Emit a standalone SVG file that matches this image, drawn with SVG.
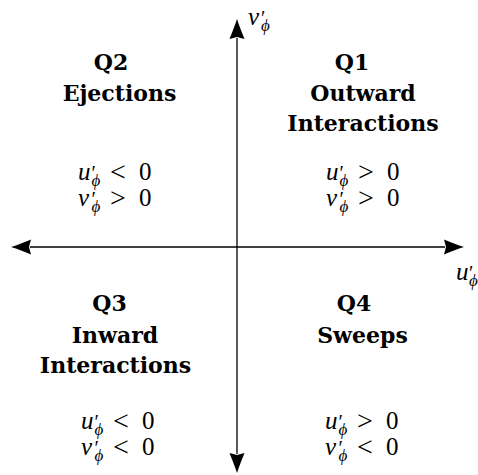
<svg xmlns="http://www.w3.org/2000/svg" width="478" height="475" viewBox="0 0 478 475">
<defs>
<style>
.b{font-family:"DejaVu Serif","Liberation Serif",serif;font-weight:bold;font-size:22px;text-anchor:middle;fill:#000}
.m{font-family:"Liberation Serif","Times New Roman",serif;font-size:25px;fill:#000}
.mi{font-style:italic}
.pr{font-size:20px}
.sb{font-style:italic;font-size:17px}
.rl{font-size:28px}
.ax{stroke:#000;stroke-width:1.3;fill:none}
</style>
<marker id="ah" markerUnits="userSpaceOnUse" markerWidth="22" markerHeight="16" viewBox="0 0 22 16" refX="1" refY="8" orient="auto-start-reverse" overflow="visible">
<path d="M20,8 C14,6.2 6,2.8 0,0.5 L2,8 L0,15.5 C6,13.2 14,9.8 20,8 Z" fill="#000"/>
</marker>
</defs>
<rect width="478" height="475" fill="#fff"/>
<g id="connectors">
<line class="ax" x1="30" y1="247" x2="445" y2="247" marker-start="url(#ah)" marker-end="url(#ah)"/>
<line class="ax" x1="237" y1="454" x2="237" y2="38" marker-start="url(#ah)" marker-end="url(#ah)"/>
</g>
<g id="label-v">
<text class="m"><tspan class="mi" x="248" y="25">v</tspan><tspan class="pr" x="261" y="25">′</tspan><tspan class="sb" x="261" y="31">ϕ</tspan></text>
</g>
<g id="label-u">
<text class="m"><tspan class="mi" x="456" y="280">u</tspan><tspan class="pr" x="469" y="280">′</tspan><tspan class="sb" x="469" y="286">ϕ</tspan></text>
</g>
<g id="Q1">
<text class="b" x="352" y="70">Q1</text>
<text class="b" x="363" y="101">Outward</text>
<text class="b" x="363" y="131">Interactions</text>
<text class="m"><tspan class="mi" x="326" y="180">u</tspan><tspan class="pr" x="339.5" y="180">′</tspan><tspan class="sb" x="339.5" y="186">ϕ</tspan><tspan class="rl" x="358" y="181">&gt;</tspan><tspan x="387" y="180">0</tspan></text>
<text class="m"><tspan class="mi" x="326" y="206">v</tspan><tspan class="pr" x="339.5" y="206">′</tspan><tspan class="sb" x="339.5" y="212">ϕ</tspan><tspan class="rl" x="358" y="207">&gt;</tspan><tspan x="387" y="206">0</tspan></text>
</g>
<g id="Q2">
<text class="b" x="111" y="70">Q2</text>
<text class="b" x="119.5" y="101">Ejections</text>
<text class="m"><tspan class="mi" x="78" y="180">u</tspan><tspan class="pr" x="91.5" y="180">′</tspan><tspan class="sb" x="91.5" y="186">ϕ</tspan><tspan class="rl" x="110" y="181">&lt;</tspan><tspan x="139" y="180">0</tspan></text>
<text class="m"><tspan class="mi" x="78" y="206">v</tspan><tspan class="pr" x="91.5" y="206">′</tspan><tspan class="sb" x="91.5" y="212">ϕ</tspan><tspan class="rl" x="110" y="207">&gt;</tspan><tspan x="139" y="206">0</tspan></text>
</g>
<g id="Q3">
<text class="b" x="109.5" y="311">Q3</text>
<text class="b" x="115" y="343">Inward</text>
<text class="b" x="115.5" y="373">Interactions</text>
<text class="m"><tspan class="mi" x="81" y="429">u</tspan><tspan class="pr" x="94.5" y="429">′</tspan><tspan class="sb" x="94.5" y="435">ϕ</tspan><tspan class="rl" x="113" y="430">&lt;</tspan><tspan x="142" y="429">0</tspan></text>
<text class="m"><tspan class="mi" x="81" y="455">v</tspan><tspan class="pr" x="94.5" y="455">′</tspan><tspan class="sb" x="94.5" y="461">ϕ</tspan><tspan class="rl" x="113" y="456">&lt;</tspan><tspan x="142" y="455">0</tspan></text>
</g>
<g id="Q4">
<text class="b" x="354" y="311">Q4</text>
<text class="b" x="362.5" y="343">Sweeps</text>
<text class="m"><tspan class="mi" x="325" y="429">u</tspan><tspan class="pr" x="338.5" y="429">′</tspan><tspan class="sb" x="338.5" y="435">ϕ</tspan><tspan class="rl" x="357" y="430">&gt;</tspan><tspan x="386" y="429">0</tspan></text>
<text class="m"><tspan class="mi" x="325" y="455">v</tspan><tspan class="pr" x="338.5" y="455">′</tspan><tspan class="sb" x="338.5" y="461">ϕ</tspan><tspan class="rl" x="357" y="456">&lt;</tspan><tspan x="386" y="455">0</tspan></text>
</g>
</svg>
